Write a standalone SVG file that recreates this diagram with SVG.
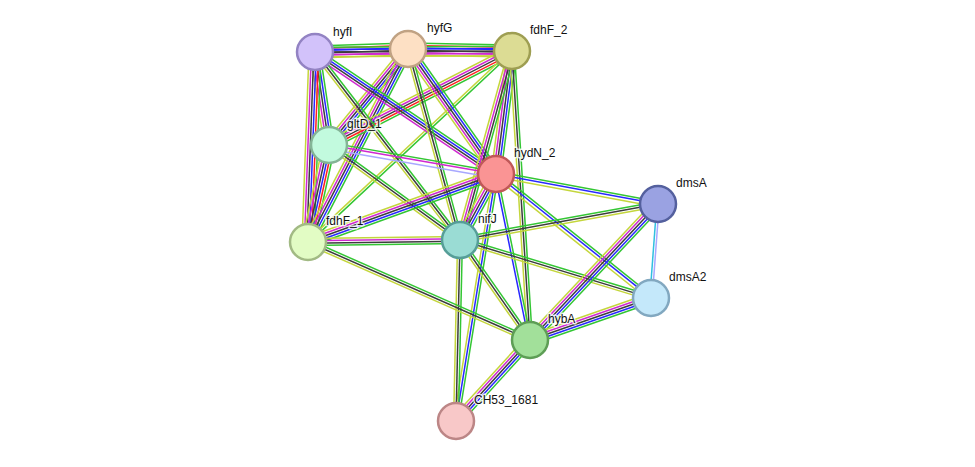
<svg xmlns="http://www.w3.org/2000/svg" width="975" height="467" viewBox="0 0 975 467">
<style>
line{stroke-width:1.5;fill:none}
.g{stroke:#33c633}.r{stroke:#ff2020}.b{stroke:#2828ff}.k{stroke:#3c3c3c}.m{stroke:#d028d0}.y{stroke:#c4d63c}.l{stroke:#a8a8ff}.c{stroke:#30c0e0}
.node circle{stroke-width:2.5}
text{font-family:"Liberation Sans",Arial,sans-serif;font-size:12px;fill:#111;stroke:#fff;stroke-width:3;stroke-opacity:.8;paint-order:stroke;stroke-linejoin:round}
</style>
<rect width="975" height="467" fill="#fff"/>
<g id="edges">
<g transform="translate(315 52) rotate(-1.85)"><line class="g" x2="93" y1="-6" y2="-6"/><line class="r" x2="93" y1="-3.6" y2="-3.6"/><line class="b" x2="93" y1="-1.2" y2="-1.2"/><line class="k" x2="93" y1="1.2" y2="1.2"/><line class="m" x2="93" y1="3.6" y2="3.6"/><line class="y" x2="93" y1="6" y2="6"/></g>
<g transform="translate(408 49) rotate(1.1)"><line class="g" x2="104" y1="-6" y2="-6"/><line class="r" x2="104" y1="-3.6" y2="-3.6"/><line class="b" x2="104" y1="-1.2" y2="-1.2"/><line class="k" x2="104" y1="1.2" y2="1.2"/><line class="m" x2="104" y1="3.6" y2="3.6"/><line class="y" x2="104" y1="6" y2="6"/></g>
<g transform="translate(315 52) rotate(-0.29)"><line class="g" x2="197" y1="-4.8" y2="-4.8"/><line class="b" x2="197" y1="-2.4" y2="-2.4"/><line class="k" x2="197" y1="0" y2="0"/><line class="m" x2="197" y1="2.4" y2="2.4"/><line class="y" x2="197" y1="4.8" y2="4.8"/></g>
<g transform="translate(315 52) rotate(81.44)"><line class="g" x2="94" y1="-4.8" y2="-4.8"/><line class="b" x2="94" y1="-2.4" y2="-2.4"/><line class="k" x2="94" y1="0" y2="0"/><line class="m" x2="94" y1="2.4" y2="2.4"/><line class="y" x2="94" y1="4.8" y2="4.8"/></g>
<g transform="translate(315 52) rotate(92.11)"><line class="g" x2="190" y1="-6" y2="-6"/><line class="r" x2="190" y1="-3.6" y2="-3.6"/><line class="b" x2="190" y1="-1.2" y2="-1.2"/><line class="k" x2="190" y1="1.2" y2="1.2"/><line class="m" x2="190" y1="3.6" y2="3.6"/><line class="y" x2="190" y1="6" y2="6"/></g>
<g transform="translate(329 145) rotate(102.22)"><line class="g" x2="99" y1="-6" y2="-6"/><line class="r" x2="99" y1="-3.6" y2="-3.6"/><line class="b" x2="99" y1="-1.2" y2="-1.2"/><line class="k" x2="99" y1="1.2" y2="1.2"/><line class="m" x2="99" y1="3.6" y2="3.6"/><line class="y" x2="99" y1="6" y2="6"/></g>
<g transform="translate(408 49) rotate(129.45)"><line class="g" x2="124" y1="-4.8" y2="-4.8"/><line class="b" x2="124" y1="-2.4" y2="-2.4"/><line class="k" x2="124" y1="0" y2="0"/><line class="m" x2="124" y1="2.4" y2="2.4"/><line class="y" x2="124" y1="4.8" y2="4.8"/></g>
<g transform="translate(408 49) rotate(117.39)"><line class="g" x2="217" y1="-4.8" y2="-4.8"/><line class="b" x2="217" y1="-2.4" y2="-2.4"/><line class="k" x2="217" y1="0" y2="0"/><line class="m" x2="217" y1="2.4" y2="2.4"/><line class="y" x2="217" y1="4.8" y2="4.8"/></g>
<g transform="translate(512 51) rotate(152.81)"><line class="g" x2="206" y1="-4.8" y2="-4.8"/><line class="r" x2="206" y1="-2.4" y2="-2.4"/><line class="k" x2="206" y1="0" y2="0"/><line class="m" x2="206" y1="2.4" y2="2.4"/><line class="y" x2="206" y1="4.8" y2="4.8"/></g>
<g transform="translate(512 51) rotate(136.88)"><line class="g" x2="279" y1="-1.2" y2="-1.2"/><line class="y" x2="279" y1="1.2" y2="1.2"/></g>
<g transform="translate(315 52) rotate(33.98)"><line class="g" x2="218" y1="-3.6" y2="-3.6"/><line class="b" x2="218" y1="-1.2" y2="-1.2"/><line class="k" x2="218" y1="1.2" y2="1.2"/><line class="m" x2="218" y1="3.6" y2="3.6"/></g>
<g transform="translate(315 52) rotate(52.36)"><line class="g" x2="237" y1="-2.4" y2="-2.4"/><line class="k" x2="237" y1="0" y2="0"/><line class="y" x2="237" y1="2.4" y2="2.4"/></g>
<g transform="translate(408 49) rotate(54.85)"><line class="g" x2="153" y1="-4.8" y2="-4.8"/><line class="b" x2="153" y1="-2.4" y2="-2.4"/><line class="k" x2="153" y1="0" y2="0"/><line class="m" x2="153" y1="2.4" y2="2.4"/><line class="y" x2="153" y1="4.8" y2="4.8"/></g>
<g transform="translate(408 49) rotate(74.77)"><line class="g" x2="198" y1="-2.4" y2="-2.4"/><line class="k" x2="198" y1="0" y2="0"/><line class="y" x2="198" y1="2.4" y2="2.4"/></g>
<g transform="translate(512 51) rotate(97.41)"><line class="g" x2="124" y1="-4.8" y2="-4.8"/><line class="b" x2="124" y1="-2.4" y2="-2.4"/><line class="k" x2="124" y1="0" y2="0"/><line class="m" x2="124" y1="2.4" y2="2.4"/><line class="y" x2="124" y1="4.8" y2="4.8"/></g>
<g transform="translate(512 51) rotate(105.38)"><line class="g" x2="196" y1="-3.6" y2="-3.6"/><line class="k" x2="196" y1="-1.2" y2="-1.2"/><line class="m" x2="196" y1="1.2" y2="1.2"/><line class="y" x2="196" y1="3.6" y2="3.6"/></g>
<g transform="translate(512 51) rotate(86.44)"><line class="g" x2="290" y1="-2.4" y2="-2.4"/><line class="k" x2="290" y1="0" y2="0"/><line class="y" x2="290" y1="2.4" y2="2.4"/></g>
<g transform="translate(329 145) rotate(9.85)"><line class="g" x2="170" y1="-2.4" y2="-2.4"/><line class="m" x2="170" y1="0" y2="0"/><line class="l" x2="170" y1="4" y2="4"/></g>
<g transform="translate(329 145) rotate(35.95)"><line class="g" x2="162" y1="-2.4" y2="-2.4"/><line class="k" x2="162" y1="0" y2="0"/><line class="y" x2="162" y1="2.4" y2="2.4"/></g>
<g transform="translate(496 174) rotate(160.12)"><line class="g" x2="200" y1="-4.8" y2="-4.8"/><line class="b" x2="200" y1="-2.4" y2="-2.4"/><line class="k" x2="200" y1="0" y2="0"/><line class="m" x2="200" y1="2.4" y2="2.4"/><line class="y" x2="200" y1="4.8" y2="4.8"/></g>
<g transform="translate(496 174) rotate(118.61)"><line class="g" x2="75" y1="-4.8" y2="-4.8"/><line class="b" x2="75" y1="-2.4" y2="-2.4"/><line class="k" x2="75" y1="0" y2="0"/><line class="m" x2="75" y1="2.4" y2="2.4"/><line class="y" x2="75" y1="4.8" y2="4.8"/></g>
<g transform="translate(496 174) rotate(10.49)"><line class="g" x2="165" y1="-2.4" y2="-2.4"/><line class="b" x2="165" y1="0" y2="0"/><line class="y" x2="165" y1="3" y2="3"/></g>
<g transform="translate(496 174) rotate(38.66)"><line class="g" x2="198" y1="-2.4" y2="-2.4"/><line class="b" x2="198" y1="0" y2="0"/><line class="y" x2="198" y1="3" y2="3"/></g>
<g transform="translate(496 174) rotate(78.42)"><line class="g" x2="169" y1="-1.2" y2="-1.2"/><line class="b" x2="169" y1="1.2" y2="1.2"/></g>
<g transform="translate(496 174) rotate(99.2)"><line class="g" x2="250" y1="-2.4" y2="-2.4"/><line class="b" x2="250" y1="0" y2="0"/><line class="y" x2="250" y1="2.4" y2="2.4"/></g>
<g transform="translate(460 240) rotate(179.25)"><line class="g" x2="152" y1="-3.6" y2="-3.6"/><line class="k" x2="152" y1="-1.2" y2="-1.2"/><line class="m" x2="152" y1="1.2" y2="1.2"/><line class="y" x2="152" y1="3.6" y2="3.6"/></g>
<g transform="translate(460 240) rotate(-10.3)"><line class="g" x2="201" y1="-2.4" y2="-2.4"/><line class="k" x2="201" y1="0" y2="0"/><line class="y" x2="201" y1="2.4" y2="2.4"/></g>
<g transform="translate(460 240) rotate(16.89)"><line class="g" x2="200" y1="-2.4" y2="-2.4"/><line class="k" x2="200" y1="0" y2="0"/><line class="y" x2="200" y1="2.4" y2="2.4"/></g>
<g transform="translate(460 240) rotate(55.01)"><line class="g" x2="122" y1="-2.4" y2="-2.4"/><line class="k" x2="122" y1="0" y2="0"/><line class="y" x2="122" y1="2.4" y2="2.4"/></g>
<g transform="translate(460 240) rotate(91.27)"><line class="g" x2="181" y1="-2.4" y2="-2.4"/><line class="k" x2="181" y1="0" y2="0"/><line class="y" x2="181" y1="2.4" y2="2.4"/></g>
<g transform="translate(308 242) rotate(23.82)"><line class="g" x2="243" y1="-2.4" y2="-2.4"/><line class="k" x2="243" y1="0" y2="0"/><line class="y" x2="243" y1="2.4" y2="2.4"/></g>
<g transform="translate(658 204) rotate(94.26)"><line class="l" x2="94" y1="-1.2" y2="-1.2"/><line class="c" x2="94" y1="1.2" y2="1.2"/></g>
<g transform="translate(658 204) rotate(133.26)"><line class="g" x2="187" y1="-4.8" y2="-4.8"/><line class="b" x2="187" y1="-2.4" y2="-2.4"/><line class="k" x2="187" y1="0" y2="0"/><line class="m" x2="187" y1="2.4" y2="2.4"/><line class="y" x2="187" y1="4.8" y2="4.8"/></g>
<g transform="translate(651 298) rotate(160.86)"><line class="g" x2="128" y1="-4.8" y2="-4.8"/><line class="b" x2="128" y1="-2.4" y2="-2.4"/><line class="k" x2="128" y1="0" y2="0"/><line class="m" x2="128" y1="2.4" y2="2.4"/><line class="y" x2="128" y1="4.8" y2="4.8"/></g>
<g transform="translate(530 340) rotate(132.41)"><line class="g" x2="110" y1="-4.8" y2="-4.8"/><line class="b" x2="110" y1="-2.4" y2="-2.4"/><line class="k" x2="110" y1="0" y2="0"/><line class="m" x2="110" y1="2.4" y2="2.4"/><line class="y" x2="110" y1="4.8" y2="4.8"/></g>
</g>
<g id="hyfI" class="node"><circle cx="315" cy="52" r="18" fill="#d2c2fa" stroke="#9383c3"/><text x="333" y="36">hyfI</text></g>
<g id="hyfG" class="node"><circle cx="408" cy="49" r="18" fill="#fde0c4" stroke="#c0a283"/><text x="427" y="32">hyfG</text></g>
<g id="fdhF_2" class="node"><circle cx="512" cy="51" r="18" fill="#dcdc94" stroke="#9e9e52"/><text x="530" y="34">fdhF_2</text></g>
<g id="gltD_1" class="node"><circle cx="329" cy="145" r="18" fill="#c2fade" stroke="#84b496"/><text x="347" y="128">gltD_1</text></g>
<g id="hydN_2" class="node"><circle cx="496" cy="174" r="18" fill="#fa9494" stroke="#c05858"/><text x="514" y="157">hydN_2</text></g>
<g id="dmsA" class="node"><circle cx="658" cy="204" r="18" fill="#9aa2e2" stroke="#54609e"/><text x="676" y="187">dmsA</text></g>
<g id="fdhF_1" class="node"><circle cx="308" cy="242" r="18" fill="#e2fcc4" stroke="#a2ba84"/><text x="326" y="225">fdhF_1</text></g>
<g id="nifJ" class="node"><circle cx="460" cy="240" r="18" fill="#9adcd4" stroke="#569e98"/><text x="478" y="223">nifJ</text></g>
<g id="dmsA2" class="node"><circle cx="651" cy="298" r="18" fill="#c4e8fa" stroke="#82a8c0"/><text x="669" y="281">dmsA2</text></g>
<g id="hybA" class="node"><circle cx="530" cy="340" r="18" fill="#a2e09a" stroke="#5e9e56"/><text x="548" y="323">hybA</text></g>
<g id="CH53_1681" class="node"><circle cx="456" cy="421" r="18" fill="#f8c8c8" stroke="#bc8686"/><text x="474" y="404">CH53_1681</text></g>
</svg>
